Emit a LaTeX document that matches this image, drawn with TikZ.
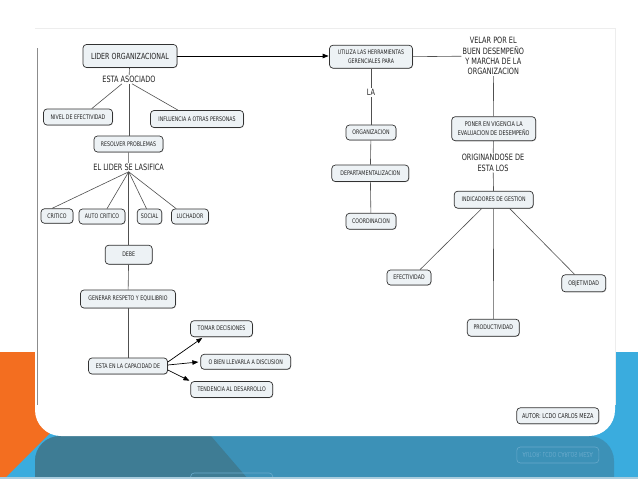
\documentclass[tikz,border=0pt]{standalone}
\usepackage{graphicx}
\usepackage{fontspec}
\setmainfont{DejaVu Sans}
\newfontfamily\diafont[FakeStretch=0.75]{DejaVu Sans}
\usetikzlibrary{arrows.meta,shadows}
\definecolor{orangebg}{RGB}{243,110,32}
\definecolor{lightblue}{RGB}{58,172,222}
\definecolor{midblue}{RGB}{60,145,183}
\definecolor{darkteal}{RGB}{62,124,148}
\definecolor{boxfill}{RGB}{237,242,245}
\definecolor{boxline}{RGB}{50,50,50}
\definecolor{lineclr}{RGB}{80,80,80}
\definecolor{txt}{RGB}{35,35,35}
\definecolor{ghost}{RGB}{105,170,204}
\definecolor{strip}{RGB}{170,205,222}
\begin{document}
\begin{tikzpicture}[x=1pt,y=-1pt,
  cbox/.style={draw=boxline,fill=boxfill,rounded corners=3.5pt,line width=0.7pt,inner sep=0.5pt,
    font=\diafont\fontsize{6.3}{7}\selectfont,text=txt,align=center,
    drop shadow={shadow xshift=0.5pt,shadow yshift=-0.6pt,fill=black,opacity=0.25}},
  sz/.style 2 args={minimum width=#1pt,minimum height=#2pt},
  two/.style={font=\diafont\fontsize{6.2}{8.3}\selectfont},
  big/.style={font=\diafont\fontsize{8.7}{10.3}\selectfont,text=txt,inner sep=1pt,align=center},
  conn/.style={draw=lineclr,line width=0.6pt},
  arr/.style={draw=black,line width=0.7pt,-{Triangle[length=6pt,width=4.5pt]}},
  ghostbox/.style={draw=ghost,rounded corners=3.5pt,line width=0.6pt,inner sep=0.5pt,text=ghost,
    font=\diafont\fontsize{6.5}{7}\selectfont},
]
\useasboundingbox (0,0) rectangle (638,479);
% ---------- background ----------
\fill[white] (0,0) rectangle (638,479);
\fill[lightblue] (0,352) rectangle (638,479);
\fill[orangebg] (0,352) -- (70,352) -- (70,413) -- (4,479) -- (0,479) -- cycle;
\fill[midblue,rounded corners=25pt] (35,510) -- (35,436) -- (614,436) -- (614,510) -- cycle;
\begin{scope}
  \clip[rounded corners=25pt] (35,510) -- (35,436) -- (614,436) -- (614,510) -- cycle;
  \fill[darkteal] (30,436) -- (211,436) -- (248,479) -- (30,479) -- cycle;
\end{scope}
\node[ghostbox,sz={82}{16}] (autorref) at (557.8,455) {\scalebox{1}[-1]{AUTOR: LCDO CARLOS MEZA}};
\node[ghostbox,sz={82}{16}] (tenderef) at (231.7,481) {};
\fill[strip] (0,477) rectangle (638,479);
% card
\fill[white,rounded corners=26pt] (35,28) rectangle (615,436);
\fill[white] (35,28) rectangle (615,120);
\draw[black!7,line width=0.5pt] (35,28) -- (615,28) -- (615,405);
\draw[black!45,line width=0.8pt] (37,48) -- (37,405);
% ---------- left map ----------
\node[cbox,sz={94}{23},font=\diafont\fontsize{8.4}{10}\selectfont] (lider) at (130,56) {LIDER ORGANIZACIONAL};
\node[big] (asoc) at (129,79.3) {ESTA ASOCIADO};
\node[cbox,sz={69}{16}] (nivel) at (78,117) {NIVEL DE EFECTIVIDAD};
\node[cbox,sz={93}{17}] (influ) at (197,119) {INFLUENCIA A OTRAS PERSONAS};
\node[cbox,sz={69}{16}] (resolver) at (128.5,144) {RESOLVER PROBLEMAS};
\node[big] (lasif) at (128.7,167.3) {EL LIDER SE LASIFICA};
\node[cbox,sz={32}{14.5}] (critico) at (57,216) {CRITICO};
\node[cbox,sz={46}{15}] (autoc) at (102,216.5) {AUTO CRITICO};
\node[cbox,sz={24.5}{15}] (social) at (149.5,216.5) {SOCIAL};
\node[cbox,sz={37}{15}] (luchador) at (190,216.5) {LUCHADOR};
\node[cbox,sz={47}{19}] (debe) at (128.7,254.7) {DEBE};
\node[cbox,sz={95}{18}] (generar) at (128,299) {GENERAR RESPETO Y EQUILIBRIO};
\node[cbox,sz={79}{16}] (capac) at (128,366) {ESTA EN LA CAPACIDAD DE};
\node[cbox,sz={62}{16}] (tomar) at (221.5,328.7) {TOMAR DECISIONES};
\node[cbox,sz={90}{15}] (discu) at (245.7,361.8) {O BIEN LLEVARLA A DISCUSION};
\node[cbox,sz={82}{16}] (tende) at (231.7,389.5) {TENDENCIA AL DESARROLLO};
% ---------- right map ----------
\node[cbox,two,sz={83}{23}] (utiliza) at (371,56.7) {UTILIZA LAS HERRAMIENTAS\\GERENCIALES PARA};
\node[big] (la) at (371,92.7) {LA};
\node[cbox,sz={50}{15}] (organiz) at (371,132.5) {ORGANIZACION};
\node[cbox,sz={77}{16.5}] (depto) at (370.3,173.3) {DEPARTAMENTALIZACION};
\node[cbox,sz={50}{16}] (coord) at (371,221.3) {COORDINACION};
\node[big] (velar) at (493.3,56.2) {VELAR POR EL\\BUEN DESEMPEÑO\\Y MARCHA DE LA\\ORGANIZACION};
\node[cbox,sz={84}{24},font=\diafont\fontsize{6.5}{8.3}\selectfont] (poner) at (493.7,128.7) {PONER EN VIGENCIA LA\\EVALUACION DE DESEMPEÑO};
\node[big] (origin) at (493,162.8) {ORIGINANDOSE DE\\ESTA LOS};
\node[cbox,sz={79}{17}] (indic) at (493.7,199.7) {INDICADORES DE GESTION};
\node[cbox,sz={44}{15}] (efect) at (409,277.5) {EFECTIVIDAD};
\node[cbox,sz={52}{17}] (produc) at (493.3,327.7) {PRODUCTIVIDAD};
\node[cbox,sz={44}{17}] (objet) at (583.7,283.3) {OBJETIVIDAD};
\node[cbox,sz={82}{16},font=\diafont\fontsize{6.6}{7}\selectfont] (autor) at (557.8,415.8) {AUTOR: LCDO CARLOS MEZA};
% ---------- connectors ----------
\draw[arr,shorten >=0.5pt] (lider.east) -- (lider.east -| utiliza.west);
\draw[conn] (lider) -- (asoc);
\draw[conn] ([xshift=-7pt]asoc.south) -- ([xshift=13.7pt]nivel.north);
\draw[conn] ([xshift=3pt]asoc.south) -- ([xshift=-19pt]influ.north);
\draw[conn] (asoc.south) -- (asoc.south |- resolver.north);
\draw[conn] (resolver) -- (lasif);
\draw[conn] (lasif.south) -- ([xshift=-5pt]critico.north);
\draw[conn] (lasif.south) -- ([xshift=5pt]autoc.north);
\draw[conn] (lasif.south) -- ([xshift=-3pt]social.north);
\draw[conn] (lasif.south) -- ([xshift=5pt]luchador.north west);
\draw[conn] (lasif.south) -- (lasif.south |- debe.north);
\draw[conn] (debe) -- (generar);
\draw[conn] (generar) -- (capac);
\draw[arr,shorten >=1.5pt] ([yshift=4pt]capac.east) -- ([xshift=-18pt]tomar.south);
\draw[arr,shorten >=2pt] ([yshift=1pt]capac.east) -- (discu.west);
\draw[arr,shorten >=1pt] ([yshift=-4pt]capac.east) -- (tende.north west);
\draw[conn] (utiliza.east) -- (velar.west);
\draw[conn] (utiliza) -- (la);
\draw[conn] (la) -- (organiz);
\draw[conn] (organiz) -- (depto);
\draw[conn] (depto) -- (coord);
\draw[conn] (velar) -- (poner);
\draw[conn] (poner) -- (origin);
\draw[conn] (origin) -- (indic);
\draw[conn] ([xshift=-12pt]indic.south) -- ([xshift=11pt]efect.north);
\draw[conn] (indic) -- (produc);
\draw[conn] ([xshift=16pt]indic.south) -- ([xshift=-9pt]objet.north);
\end{tikzpicture}
\end{document}
